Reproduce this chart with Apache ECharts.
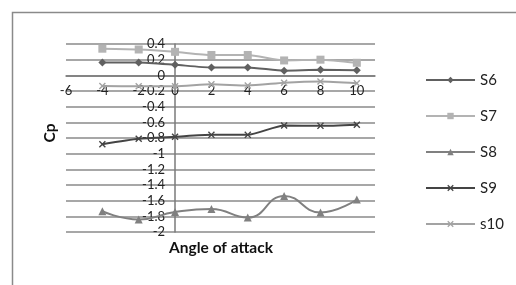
<!DOCTYPE html>
<html><head><meta charset="utf-8">
<script src="https://cdn.jsdelivr.net/npm/echarts@6/dist/echarts.min.js"></script>
<style>html,body{margin:0;padding:0;background:#fff}#c{width:516px;height:285px}</style>
</head><body><div id="c"></div>
<script>
const angles = [-4, -2, 0, 2, 4, 6, 8, 10];
const S6 = [0.165, 0.165, 0.135, 0.10, 0.10, 0.06, 0.07, 0.065];
const S7 = [0.34, 0.33, 0.30, 0.26, 0.26, 0.19, 0.20, 0.16];
const S8 = [-1.735, -1.84, -1.745, -1.705, -1.815, -1.54, -1.75, -1.585];
const S9 = [-0.88, -0.81, -0.785, -0.76, -0.76, -0.64, -0.645, -0.63];
const S10 = [-0.137, -0.14, -0.14, -0.115, -0.13, -0.095, -0.08, -0.10];
const seriesNames = ['S6', 'S7', 'S8', 'S9', 's10'];
const xTitle = 'Angle of attack';
const yTitle = 'Cp';

const X = 'path://M0,1.4L1.4,0L5,3.6L8.6,0L10,1.4L6.4,5L10,8.6L8.6,10L5,6.4L1.4,10L0,8.6L3.6,5Z';
const styles = [
  {color: '#606060', symbol: 'diamond', size: 8},
  {color: '#b3b3b3', symbol: 'rect', size: 8},
  {color: '#808080', symbol: 'triangle', size: 8},
  {color: '#444444', symbol: X, size: 7},
  {color: '#a3a3a3', symbol: X, size: 7}
];
const values = [S6, S7, S8, S9, S10];
const font = 'Lato, "Open Sans", sans-serif';

const gridLeft = 66, gridTop = 44, gridRight = 141, gridBottom = 53;
const chart = echarts.init(document.getElementById('c'));
const plotW = 516 - gridLeft - gridRight, plotH = 285 - gridTop - gridBottom;
const xMin = -6, xMax = 11, yMin = -2, yMax = 0.4;
// place axes through zero via offsets computed from the axis ranges
const xAxisOffset = -plotH * (0 - yMin) / (yMax - yMin);
const yAxisOffset = -plotW * (0 - xMin) / (xMax - xMin);

chart.setOption({
  animation: false,
  backgroundColor: '#fff',
  grid: {left: gridLeft, right: gridRight, top: gridTop, bottom: gridBottom, containLabel: false},
  xAxis: {
    type: 'value', min: xMin, max: xMax, interval: 2, position: 'bottom', offset: xAxisOffset,
    axisLine: {onZero: false, lineStyle: {color: '#7a7a7a', width: 1.5}},
    axisTick: {show: false},
    splitLine: {show: false},
    axisLabel: {color: '#222', fontSize: 13, fontFamily: font, margin: 9,
      formatter: v => (v === 11 ? '' : String(v))}
  },
  yAxis: {
    type: 'value', min: yMin, max: yMax, interval: 0.2, position: 'left', offset: yAxisOffset,
    axisLine: {show: true, onZero: false, lineStyle: {color: '#7a7a7a', width: 1.5}},
    axisTick: {show: false},
    splitLine: {show: true, lineStyle: {color: '#8a8a8a', width: 1.5}},
    axisLabel: {color: '#222', fontSize: 13, fontFamily: font, margin: 10,
      formatter: v => String(Math.round(v * 10) / 10)}
  },
  legend: {
    orient: 'vertical', left: 420, top: 67, itemWidth: 49, itemHeight: 8, itemGap: 20,
    textStyle: {fontSize: 15, lineHeight: 16, fontFamily: font, color: '#222'},
    data: seriesNames
  },
  series: seriesNames.map((n, i) => ({
    name: n, type: 'line', smooth: i === 2 ? 0.5 : 0.2,
    data: angles.map((a, k) => [a, values[i][k]]),
    symbol: styles[i].symbol, symbolSize: styles[i].size,
    showAllSymbol: true,
    lineStyle: {color: styles[i].color, width: 2},
    itemStyle: {color: styles[i].color}
  })),
  graphic: [
    {type: 'rect', left: 10, top: 10, shape: {width: 520, height: 300},
      style: {fill: 'none', stroke: '#8a8a8a', lineWidth: 1.5}, silent: true},
    {type: 'text', x: 221, y: 248, style: {text: xTitle, font: 'bold 15.5px ' + font, fill: '#111', textAlign: 'center', textVerticalAlign: 'middle'}},
    {type: 'text', x: 50, y: 133, rotation: Math.PI / 2, style: {text: yTitle, font: 'bold 15.5px ' + font, fill: '#111', textAlign: 'center', textVerticalAlign: 'middle'}}
  ]
});
</script></body></html>
